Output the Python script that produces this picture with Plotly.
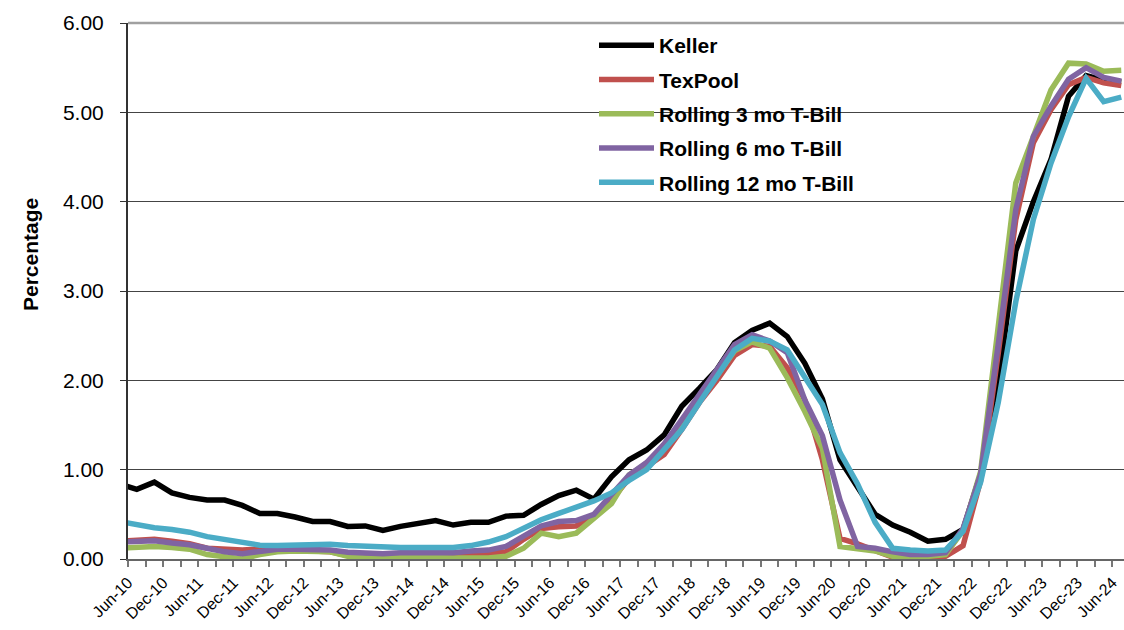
import numpy as np
import plotly.graph_objects as go

# Tick labels (every other quarterly tick is labelled)
tick_labels = ["Jun-10", "Dec-10", "Jun-11", "Dec-11", "Jun-12", "Dec-12", "Jun-13", "Dec-13",
               "Jun-14", "Dec-14", "Jun-15", "Dec-15", "Jun-16", "Dec-16", "Jun-17", "Dec-17",
               "Jun-18", "Dec-18", "Jun-19", "Dec-19", "Jun-20", "Dec-20", "Jun-21", "Dec-21",
               "Jun-22", "Dec-22", "Jun-23", "Dec-23", "Jun-24"]

# Quarterly values (points sit between tick marks; first point lies just left of the axis)
keller = [0.84, 0.78, 0.86, 0.74, 0.69, 0.66, 0.66, 0.60, 0.51, 0.51, 0.47, 0.42, 0.42, 0.365,
          0.37, 0.32, 0.365, 0.40, 0.43, 0.38, 0.41, 0.41, 0.48, 0.49, 0.61, 0.71, 0.77, 0.67,
          0.92, 1.11, 1.22, 1.39, 1.71, 1.91, 2.12, 2.42, 2.56, 2.64, 2.49, 2.19, 1.79, 1.11,
          0.81, 0.50, 0.38, 0.30, 0.20, 0.22, 0.33, 0.95, 1.95, 3.45, 4.00, 4.47, 5.18, 5.41,
          5.36, 5.34]
texpool = [0.20, 0.21, 0.22, 0.20, 0.17, 0.12, 0.11, 0.10, 0.11, 0.11, 0.10, 0.09, 0.08, 0.04,
           0.02, 0.03, 0.02, 0.02, 0.01, 0.02, 0.04, 0.05, 0.08, 0.22, 0.34, 0.36, 0.37, 0.49,
           0.66, 0.90, 1.04, 1.17, 1.45, 1.75, 2.00, 2.28, 2.40, 2.38, 2.14, 1.78, 1.11, 0.23,
           0.17, 0.10, 0.02, 0.00, 0.02, 0.03, 0.15, 0.88, 2.30, 3.80, 4.66, 5.03, 5.31, 5.39,
           5.33, 5.30]
tbill_3mo = [0.12, 0.13, 0.14, 0.13, 0.11, 0.05, 0.02, 0.00, 0.05, 0.08, 0.09, 0.08, 0.08, 0.03,
             0.01, 0.02, 0.03, 0.02, 0.01, 0.01, 0.01, 0.01, 0.03, 0.12, 0.29, 0.25, 0.29, 0.45,
             0.62, 0.94, 1.07, 1.25, 1.51, 1.80, 2.05, 2.33, 2.43, 2.36, 2.03, 1.65, 1.24, 0.14,
             0.11, 0.09, 0.03, 0.00, 0.03, 0.05, 0.32, 0.98, 2.60, 4.21, 4.73, 5.25, 5.55, 5.54,
             5.46, 5.47]
tbill_6mo = [0.19, 0.20, 0.205, 0.18, 0.16, 0.12, 0.08, 0.06, 0.09, 0.11, 0.11, 0.11, 0.10, 0.075,
             0.065, 0.06, 0.07, 0.07, 0.06, 0.07, 0.09, 0.10, 0.14, 0.25, 0.37, 0.42, 0.43, 0.50,
             0.72, 0.94, 1.08, 1.29, 1.56, 1.84, 2.10, 2.40, 2.51, 2.44, 2.31, 1.78, 1.38, 0.66,
             0.14, 0.12, 0.08, 0.05, 0.05, 0.07, 0.34, 0.95, 2.40, 3.91, 4.73, 5.07, 5.37, 5.50,
             5.39, 5.35]
tbill_12mo = [0.42, 0.38, 0.35, 0.33, 0.30, 0.25, 0.215, 0.18, 0.155, 0.15, 0.155, 0.165, 0.165, 0.15,
              0.14, 0.13, 0.13, 0.13, 0.125, 0.13, 0.15, 0.19, 0.25, 0.35, 0.44, 0.51, 0.58, 0.65,
              0.74, 0.88, 1.00, 1.22, 1.45, 1.75, 2.04, 2.34, 2.47, 2.44, 2.34, 2.04, 1.73, 1.19,
              0.84, 0.41, 0.12, 0.10, 0.09, 0.10, 0.31, 0.86, 1.75, 2.88, 3.80, 4.43, 4.95, 5.38,
              5.12, 5.17]

series = [("Keller", keller, "#000000"),
          ("TexPool", texpool, "#C0504D"),
          ("Rolling 3 mo T-Bill", tbill_3mo, "#9BBB59"),
          ("Rolling 6 mo T-Bill", tbill_6mo, "#8064A2"),
          ("Rolling 12 mo T-Bill", tbill_12mo, "#4BACC6")]

FONT = "Liberation Sans, Arial, sans-serif"
n_ticks = 2 * len(tick_labels) - 1
tickvals = list(range(n_ticks))
ticktext = [tick_labels[i // 2] if i % 2 == 0 else "" for i in tickvals]

fig = go.Figure()
for name, vals, color in series:
    x = np.arange(len(vals)) - 0.5
    fig.add_trace(go.Scatter(x=x, y=vals, mode="lines", name="<b>%s</b>" % name,
                             legendgroup=name,
                             line=dict(color=color, width=5.5, shape="linear")))

W, H = 1124, 630
L, R, T, B = 128, 0, 23, 71
pw = W - L - R
ph = H - T - B

def px_x(p):
    return (p - L) / pw

def px_y(p):
    return (H - B - p) / ph

fig.add_shape(type="rect", xref="paper", yref="paper",
              x0=px_x(577), x1=px_x(880), y0=px_y(205), y1=px_y(25),
              fillcolor="white", line=dict(width=0), layer="below")
fig.add_shape(type="line", xref="paper", yref="paper", x0=0, x1=1, y0=1, y1=1,
              line=dict(color="#a0a0a0", width=2.5), layer="above")

fig.update_layout(
    width=W, height=H,
    margin=dict(l=L, r=R, t=T, b=B, autoexpand=False),
    paper_bgcolor="white", plot_bgcolor="white",
    font=dict(family=FONT, color="black"),
    showlegend=True,
    legend=dict(x=px_x(594), y=px_y(25), xanchor="left", yanchor="top",
                bgcolor="rgba(0,0,0,0)", font=dict(size=21, family=FONT, color="black"),
                tracegroupgap=4, itemwidth=55),
    xaxis=dict(range=[0, pw / 17.58], tickvals=tickvals, ticktext=ticktext,
               tickangle=-45, ticks="outside", ticklen=6, tickcolor="#777", tickwidth=1.5,
               showline=True, linecolor="#666", linewidth=2, showgrid=False, zeroline=False,
               automargin=False, ticklabeloverflow="allow",
               tickfont=dict(size=16, family=FONT, color="black")),
    yaxis=dict(range=[0, 6], dtick=1, tickformat=".2f", ticks="outside", ticklen=6,
               tickcolor="#333", showline=True, linecolor="#333", linewidth=2,
               showgrid=True, gridcolor="#444", gridwidth=1, zeroline=False,
               ticklabelstandoff=12, automargin=False,
               tickfont=dict(size=21, family=FONT, color="black")),
    annotations=[dict(text="<b>Percentage</b>", xref="paper", yref="paper",
                      x=px_x(30), y=px_y(255), xanchor="center", yanchor="middle",
                      textangle=-90, showarrow=False,
                      font=dict(size=21, family=FONT, color="black"))],
)

# remove the default page margin so the figure fills the window exactly
fig.write_html("out.html", config={"displayModeBar": False},
               post_script="document.body.style.margin='0';document.body.style.overflow='hidden';")
